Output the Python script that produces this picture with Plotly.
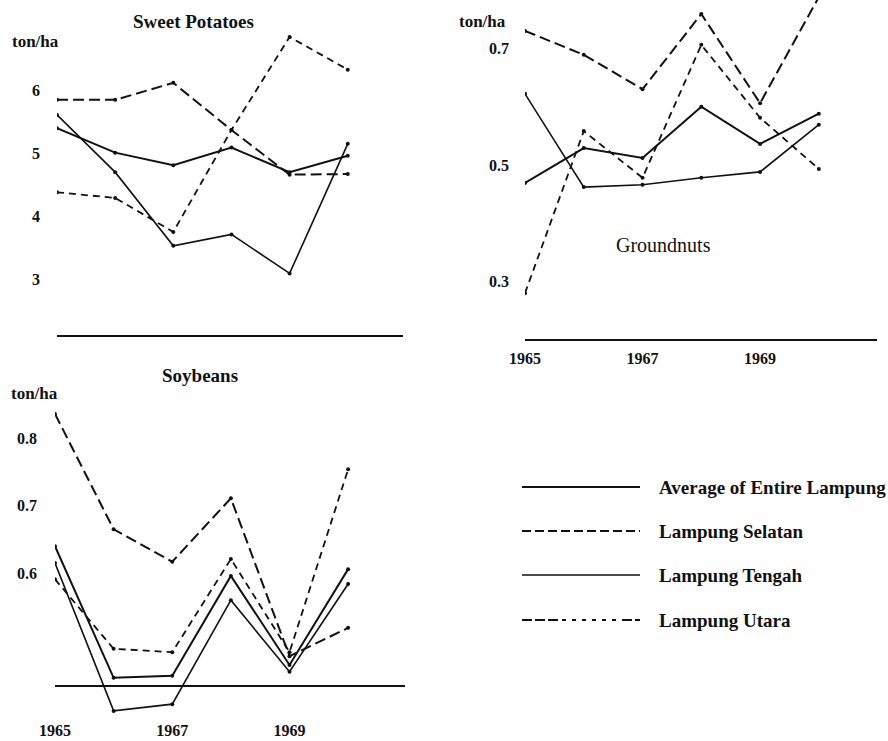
import plotly.graph_objects as go

W, H = 888, 741

years = [1965, 1966, 1967, 1968, 1969, 1970]

# Sweet potatoes, ton/ha
sp_average = [5.40, 5.01, 4.81, 5.09, 4.70, 4.96]
sp_selatan = [5.85, 5.85, 6.12, 5.37, 4.66, 4.67]
sp_tengah = [5.61, 4.70, 3.53, 3.71, 3.09, 5.15]
sp_utara = [4.38, 4.29, 3.75, 5.37, 6.85, 6.33]

# Groundnuts, ton/ha
gn_average = [0.469, 0.529, 0.512, 0.600, 0.536, 0.588]
gn_selatan = [0.730, 0.689, 0.630, 0.759, 0.606, 0.788]
gn_tengah = [0.622, 0.462, 0.466, 0.478, 0.488, 0.569]
gn_utara = [0.280, 0.558, 0.478, 0.706, 0.581, 0.493]

# Soybeans, ton/ha
sb_average = [0.640, 0.445, 0.448, 0.596, 0.464, 0.606]
sb_selatan = [0.836, 0.665, 0.617, 0.711, 0.477, 0.519]
sb_tengah = [0.615, 0.396, 0.406, 0.560, 0.454, 0.584]
sb_utara = [0.591, 0.488, 0.483, 0.621, 0.483, 0.754]

sp_ticks = [3, 4, 5, 6]
sp_ticktext = ["3", "4", "5", "6"]
gn_ticks = [0.3, 0.5, 0.7]
gn_ticktext = ["0.3", "0.5", "0.7"]
sb_ticks = [0.6, 0.7, 0.8]
sb_ticktext = ["0.6", "0.7", "0.8"]
year_ticks = [1965, 1967, 1969]

series_names = ["Average of Entire Lampung", "Lampung Selatan",
                "Lampung Tengah", "Lampung Utara"]
styles = [
    dict(dash="solid", width=2.0),
    dict(dash="11px,5px", width=2.0),
    dict(dash="solid", width=1.6),
    dict(dash="7px,5px", width=1.8),
]

SERIF = "Liberation Serif, Times New Roman, serif"
INK = "#111111"


def px_x(p):
    return p / W


def px_y(p):
    return 1 - p / H


fig = go.Figure()

panels = [
    ("x", "y", [sp_average, sp_selatan, sp_tengah, sp_utara]),
    ("x2", "y2", [gn_average, gn_selatan, gn_tengah, gn_utara]),
    ("x3", "y3", [sb_average, sb_selatan, sb_tengah, sb_utara]),
]

for xa, ya, data in panels:
    for name, vals, st in zip(series_names, data, styles):
        fig.add_trace(go.Scatter(
            x=years, y=vals, name=name, xaxis=xa, yaxis=ya,
            mode="lines+markers",
            line=dict(color=INK, width=st["width"], dash=st["dash"]),
            marker=dict(color=INK, size=4),
            showlegend=False, hoverinfo="x+y+name",
        ))

tickfont = dict(family=SERIF, size=16, color=INK, weight="bold")

common_x = dict(showgrid=False, zeroline=False, showline=True,
                linecolor=INK, linewidth=2.2, ticks="", tickfont=tickfont,
                fixedrange=True, automargin=False)
common_y = dict(showgrid=False, zeroline=False, showline=False, ticks="",
                tickfont=tickfont, fixedrange=True, automargin=False)

fig.update_layout(
    width=W, height=H,
    autosize=False,
    margin=dict(l=0, r=0, t=0, b=0, pad=0, autoexpand=False),
    paper_bgcolor="white", plot_bgcolor="white",
    showlegend=False,
    # Sweet potatoes (top left)
    xaxis=dict(common_x, domain=[px_x(57), px_x(403)], range=[1965, 1970.95],
               anchor="y", showticklabels=False),
    yaxis=dict(common_y, domain=[px_y(335), px_y(0)], range=[2.111, 7.437],
               anchor="x", tickvals=sp_ticks, ticktext=sp_ticktext,
               ticklabelstandoff=16),
    # Groundnuts (top right)
    xaxis2=dict(common_x, domain=[px_x(525), px_x(877)], range=[1965, 1970.99],
                anchor="y2", tickvals=year_ticks,
                ticktext=[str(v) for v in year_ticks], ticklabelstandoff=4),
    yaxis2=dict(common_y, domain=[px_y(339), px_y(0)], range=[0.2013, 0.783],
                anchor="x2", tickvals=gn_ticks, ticktext=gn_ticktext,
                ticklabelstandoff=15),
    # Soybeans (bottom left)
    xaxis3=dict(common_x, domain=[px_x(55), px_x(405)], range=[1965, 1970.97],
                anchor="free", position=px_y(686), tickvals=year_ticks,
                ticktext=[str(v) for v in year_ticks], ticklabelstandoff=30),
    yaxis3=dict(common_y, domain=[px_y(720), px_y(395)], range=[0.3825, 0.864],
                anchor="x3", tickvals=sb_ticks, ticktext=sb_ticktext,
                ticklabelstandoff=17),
)


def label(text, x, y, size=19, bold=True, xanchor="center"):
    fig.add_annotation(
        text=text, x=px_x(x), y=px_y(y), xref="paper", yref="paper",
        showarrow=False, xanchor=xanchor, yanchor="middle",
        font=dict(family=SERIF, size=size, color=INK,
                  weight="bold" if bold else "normal"),
    )


# panel titles and units
label("Sweet Potatoes", 193, 22)
label("Groundnuts", 663, 245, bold=False, size=20)
label("Soybeans", 200, 375)
label("ton/ha", 35, 42, size=17)
label("ton/ha", 482, 22, size=17)
label("ton/ha", 34, 393, size=17)

# key: line samples with their labels
key_rows = [487, 531, 575, 620]
key_dash = [
    "solid",
    "9px,4px",
    "solid",
    "10px,3px,10px,3px,10px,4px,4px,6px,4px,6px,4px,6px,4px,6px,4px,6px,4px,6px",
]
for name, yk, dash, st in zip(series_names, key_rows, key_dash, styles):
    fig.add_shape(type="line", xref="paper", yref="paper",
                  x0=px_x(522), x1=px_x(640), y0=px_y(yk), y1=px_y(yk),
                  line=dict(color=INK, width=st["width"], dash=dash))
    label(name, 657, yk, size=19, xanchor="left")

fig.write_html("out.html")
